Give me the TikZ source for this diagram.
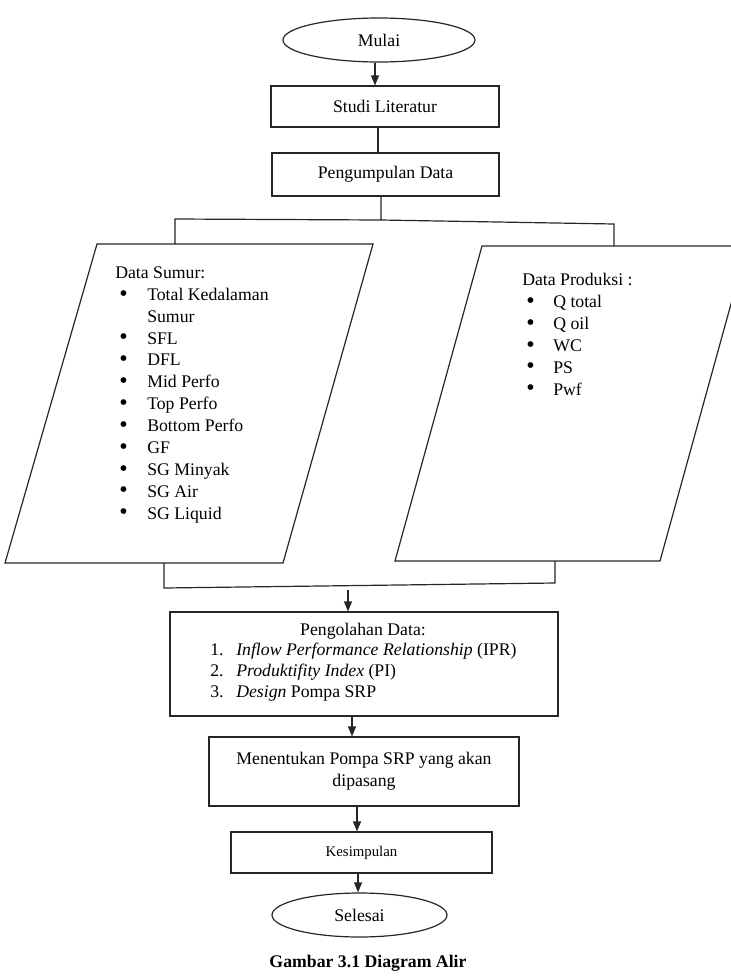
\documentclass[tikz,border=0pt]{standalone}
\usepackage{fontspec}
\setmainfont{Liberation Serif}
\usetikzlibrary{shapes.geometric,arrows.meta,positioning}

\newcommand{\titik}{\raisebox{-0.6pt}{\fontsize{18pt}{16pt}\selectfont\textbullet}}
\newcommand{\butir}{\hspace*{3pt}\makebox[21pt][l]{\titik}}
\newcommand{\butirKa}{\hspace*{3pt}\makebox[20.25pt][l]{\titik}}
\newcommand{\nomor}[1]{\makebox[19.5pt][l]{#1}}

\tikzset{
  proses/.style={draw=black!85,line width=0.9pt,rectangle,inner sep=0pt,font=\fontsize{13.3pt}{16.4pt}\selectfont},
  ujung/.style={draw=black!85,line width=0.9pt,ellipse,inner sep=0pt,font=\fontsize{13.3pt}{16.4pt}\selectfont},
  garis/.style={draw=black!85,line width=0.9pt},
  panah/.style={garis,-{Triangle[length=7.5pt,width=6pt]}},
  teks/.style={inner sep=0pt,font=\fontsize{13.3pt}{16.4pt}\selectfont},
}

\begin{document}
\begin{tikzpicture}[x=0.75pt,y=-0.75pt]
\useasboundingbox (0,0) rectangle (731,979);
\clip (0,0) rectangle (731,979);

% awal dan kotak proses atas
\node (mulai)[ujung,minimum width=144pt,minimum height=33pt] at (379,40) {Mulai};
\node (studi)[proses,minimum width=171pt,minimum height=30.75pt] at (385,106.5) {Studi Literatur};
\node (kumpul)[proses,minimum width=170.25pt,minimum height=32.25pt] at (385.5,174.5) {Pengumpulan Data};

\draw[panah] ([xshift=-3pt]mulai.south) -- ([xshift=-3pt]mulai.south |- studi.north);
\draw[garis] ([xshift=-5.25pt]studi.south) -- ([xshift=-5.25pt]studi.south |- kumpul.north);

% percabangan ke dua data
\coordinate (cabang) at (381,220);
\coordinate (cabangKi) at (175,219);
\coordinate (cabangKa) at (614,224);

\coordinate (sumurA) at (97,244);
\coordinate (sumurB) at (373,244);
\coordinate (sumurC) at (283,563);
\coordinate (sumurD) at (5,563);

\coordinate (produksiA) at (482,246);
\coordinate (produksiB) at (747,246);
\coordinate (produksiC) at (660,561);
\coordinate (produksiD) at (395,561);

\draw[garis] ([xshift=-3.4pt]kumpul.south) -- (cabang);
\draw[garis] (cabangKi |- sumurA) -- (cabangKi) -- (cabang) -- (cabangKa) -- (cabangKa |- produksiA);

\draw[garis] (sumurA) -- (sumurB) -- (sumurC) -- (sumurD) -- cycle;
\draw[garis] (produksiA) -- (produksiB) -- (produksiC) -- (produksiD) -- cycle;

% baseline node = baris terakhir
\node (sumur)[teks,anchor=base west,align=left] at (115,519) {Data Sumur:\\
\butir Total Kedalaman\\
\hspace*{24pt}Sumur\\
\butir SFL\\
\butir DFL\\
\butir Mid Perfo\\
\butir Top Perfo\\
\butir Bottom Perfo\\
\butir GF\\
\butir SG Minyak\\
\butir SG Air\\
\butir SG Liquid};

\node (produksi)[teks,anchor=base west,align=left] at (522,395) {Data Produksi :\\
\butirKa Q total\\
\butirKa Q oil\\
\butirKa WC\\
\butirKa PS\\
\butirKa Pwf};

% penggabungan
\coordinate (gabungKi) at (164,588);
\coordinate (gabungKa) at (555,583);
\coordinate (gabung) at (348,590);

\draw[garis] (gabungKi |- sumurD) -- (gabungKi) -- (gabungKa) -- (gabungKa |- produksiD);

% pengolahan dan seterusnya
\node (olah)[proses,minimum width=291pt,minimum height=78pt] at (364,664) {};
\node (olahJudul)[teks,anchor=base] at (363,635) {Pengolahan Data:};
\node (olahIsi)[teks,anchor=base west,align=left,font=\fontsize{13.3pt}{15.75pt}\selectfont] at (210,697) {\nomor{1.}\textit{Inflow Performance Relationship} (IPR)\\
\nomor{2.}\textit{Produktifity Index} (PI)\\
\nomor{3.}\textit{Design} Pompa SRP};

\node (tentukan)[proses,minimum width=232.5pt,minimum height=51.75pt,align=center] at (364,771.5) {Menentukan Pompa SRP yang akan\\dipasang};
\node (simpul)[proses,minimum width=195.75pt,minimum height=30.75pt,font=\fontsize{11.1pt}{13pt}\selectfont] at (361.5,852.5) {Kesimpulan};
\node (selesai)[ujung,minimum width=131.25pt,minimum height=33pt] at (359.5,915) {Selesai};

\draw[panah] (gabung) -- (gabung |- olah.north);
\draw[panah] ([xshift=-9pt]olah.south) -- ([xshift=-9pt]olah.south |- tentukan.north);
\draw[panah] ([xshift=-5.25pt]tentukan.south) -- ([xshift=-5.25pt]tentukan.south |- simpul.north);
\draw[panah] ([xshift=-2.6pt]simpul.south) -- ([xshift=-2.6pt]simpul.south |- selesai.north);

\node (judul)[teks,anchor=base,font=\bfseries\fontsize{13.3pt}{16pt}\selectfont] at (368,967) {Gambar 3.1 Diagram Alir};

\end{tikzpicture}
\end{document}
